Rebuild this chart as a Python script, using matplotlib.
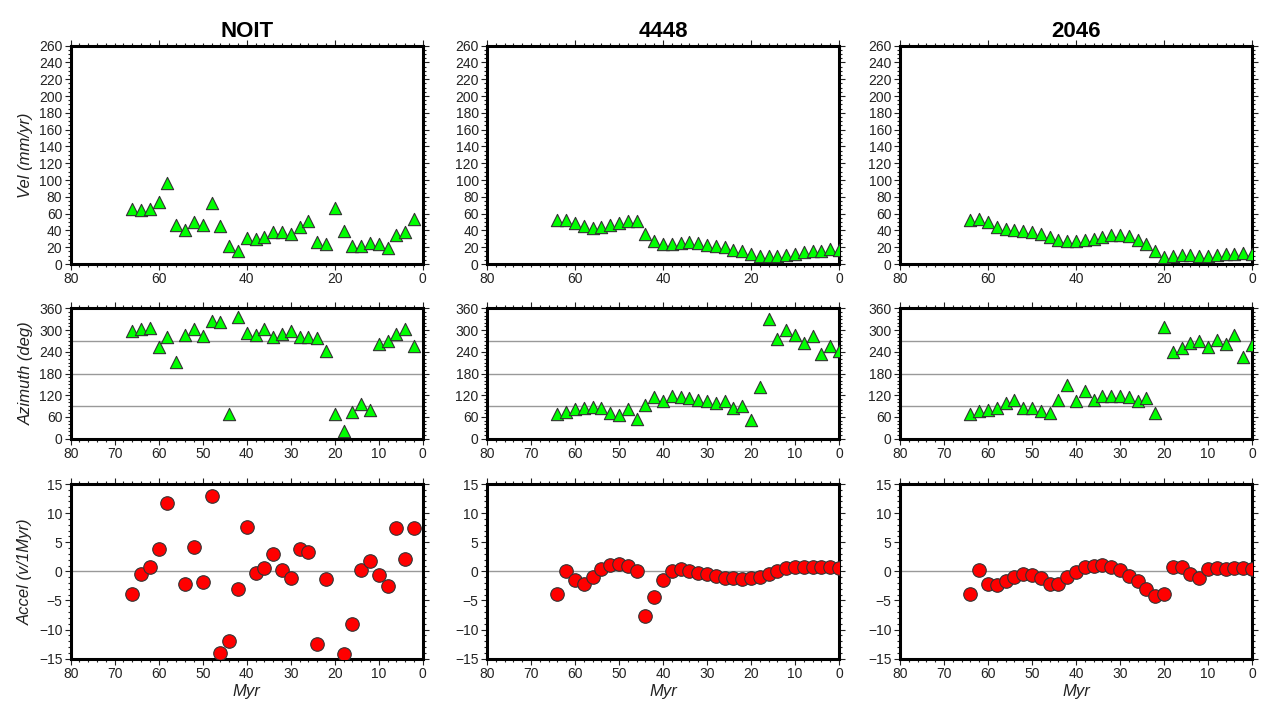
import numpy as np
import matplotlib
matplotlib.use("Agg")
import matplotlib.pyplot as plt
from matplotlib.ticker import MultipleLocator

plt.rcParams["font.family"] = ["Liberation Sans", "DejaVu Sans"]

titles = ["NOIT", "4448", "2046"]

# ages (Myr)
age_noit = np.arange(66, 0, -2)
age_4448 = np.arange(64, -1, -2)
age_2046 = np.arange(64, -1, -2)

vel_noit = [65, 64, 66, 74, 97, 46, 41, 50, 47, 73, 45, 21, 15, 31, 30, 32, 38,
            38, 36, 44, 51, 26, 24, 67, 39, 21, 21, 25, 24, 19, 34, 38, 54]
azi_noit = [298, 302, 305, 252, 280, 212, 287, 302, 284, 325, 322, 68, 335, 292, 285, 303, 280,
            288, 298, 280, 280, 277, 243, 68, 20, 73, 97, 78, 262, 270, 290, 302, 255]
acc_noit = [-3.9, -0.4, 0.8, 3.8, 11.8, np.nan, -2.2, 4.2, -1.8, 12.9, -14.1, -11.9, -3.0,
            7.7, -0.3, 0.6, 3.0, 0.3, -1.1, 3.8, 3.3, -12.4, -1.3, np.nan, -14.2, -9.0,
            0.2, 1.7, -0.6, -2.5, 7.5, 2.1, 7.5]

vel_4448 = [53, 52, 49, 45, 43, 44, 46, 49, 51, 51, 36, 27, 24, 24, 25, 26, 25,
            23, 22, 20, 17, 15, 12, 10, 9, 9, 11, 12, 14, 15, 16, 18, 17]
azi_4448 = [68, 75, 81, 86, 88, 85, 72, 65, 81, 55, 94, 114, 104, 117, 114, 111, 108,
            104, 99, 104, 85, 90, 51, 142, 330, 276, 300, 285, 263, 283, 235, 257, 241]
acc_4448 = [-3.9, 0.0, -1.5, -2.1, -0.9, 0.4, 1.1, 1.2, 0.9, 0.1, -7.7, -4.4, -1.5,
            0.1, 0.4, 0.1, -0.3, -0.5, -0.8, -1.1, -1.2, -1.3, -1.2, -0.9, -0.5, 0.1,
            0.6, 0.8, 0.7, 0.7, 0.7, 0.7, 0.6]

vel_2046 = [53, 54, 50, 44, 42, 40, 39, 38, 36, 32, 28, 27, 27, 28, 30, 32, 34,
            34, 33, 29, 24, 16, 8, 10, 11, 11, 9, 10, 11, 12, 12, 13, 12]
azi_2046 = [68, 77, 80, 85, 98, 106, 85, 85, 76, 72, 106, 148, 104, 132, 107, 119, 119,
            118, 116, 104, 112, 72, 309, 238, 251, 263, 269, 252, 272, 262, 285, 225, 260]
acc_2046 = [-3.9, 0.3, -2.1, -2.4, -1.6, -0.9, -0.5, -0.6, -1.1, -2.1, -2.1, -0.95, -0.1,
            0.7, 0.95, 1.06, 0.8, 0.15, -0.8, -1.7, -3.0, -4.2, -3.9, 0.7, 0.7, -0.4,
            -1.1, 0.4, 0.5, 0.4, 0.5, 0.5, 0.4]

ages = [age_noit, age_4448, age_2046]
vels = [vel_noit, vel_4448, vel_2046]
azis = [azi_noit, azi_4448, azi_2046]
accs = [acc_noit, acc_4448, acc_2046]

W, H = 1262, 708
fig = plt.figure(figsize=(W / 100, H / 100), dpi=100)

lefts = [70.7, 487, 900]
width = 352
rows = [(45.7, 264), (308.3, 438.7), (484, 658.7)]


def make_ax(x0, row):
    top, bot = rows[row]
    return fig.add_axes([x0 / W, 1 - bot / H, width / W, (bot - top) / H])


def style(ax, xmaj, ymaj, ymin):
    ax.set_xlim(80, 0)
    ax.xaxis.set_major_locator(MultipleLocator(xmaj))
    ax.xaxis.set_minor_locator(MultipleLocator(2))
    ax.yaxis.set_major_locator(MultipleLocator(ymaj))
    ax.yaxis.set_minor_locator(MultipleLocator(ymin))
    ax.tick_params(which="both", direction="out", top=True, right=True,
                   labeltop=False, labelright=False, labelsize=10, colors="#222222",
                   width=0.8, pad=2)
    ax.tick_params(which="major", length=4)
    ax.tick_params(which="minor", length=2)
    for s in ax.spines.values():
        s.set_linewidth(2.2)


tri = dict(marker="^", s=78, facecolor="#00ff00", edgecolor="#333333", linewidth=0.8, zorder=3)
dot = dict(marker="o", s=95, facecolor="#ff0000", edgecolor="#333333", linewidth=0.8, zorder=3)
ital = dict(fontsize=12, style="italic", color="#222222")

for i in range(3):
    x0 = lefts[i]
    ax1 = make_ax(x0, 0)
    ax1.scatter(ages[i], vels[i], **tri)
    ax1.set_ylim(0, 260)
    style(ax1, 20, 20, 5)
    ax1.set_title(titles[i], fontsize=16, fontweight="bold", pad=6)

    ax2 = make_ax(x0, 1)
    for g in (90, 180, 270):
        ax2.axhline(g, color="#999999", linewidth=1.0, zorder=1)
    ax2.scatter(ages[i], azis[i], **tri)
    ax2.set_ylim(0, 360)
    style(ax2, 10, 60, 10)

    ax3 = make_ax(x0, 2)
    ax3.axhline(0, color="#999999", linewidth=1.0, zorder=1)
    ax3.scatter(ages[i], accs[i], **dot)
    ax3.set_ylim(-15, 15)
    style(ax3, 10, 5, 1)
    ax3.set_xlabel("Myr", labelpad=2, **ital)

    if i == 0:
        ax1.set_ylabel("Vel (mm/yr)", labelpad=4, **ital)
        ax2.set_ylabel("Azimuth (deg)", labelpad=4, **ital)
        ax3.set_ylabel("Accel (v/1Myr)", labelpad=4, **ital)

fig.savefig("out.png", dpi=100)
